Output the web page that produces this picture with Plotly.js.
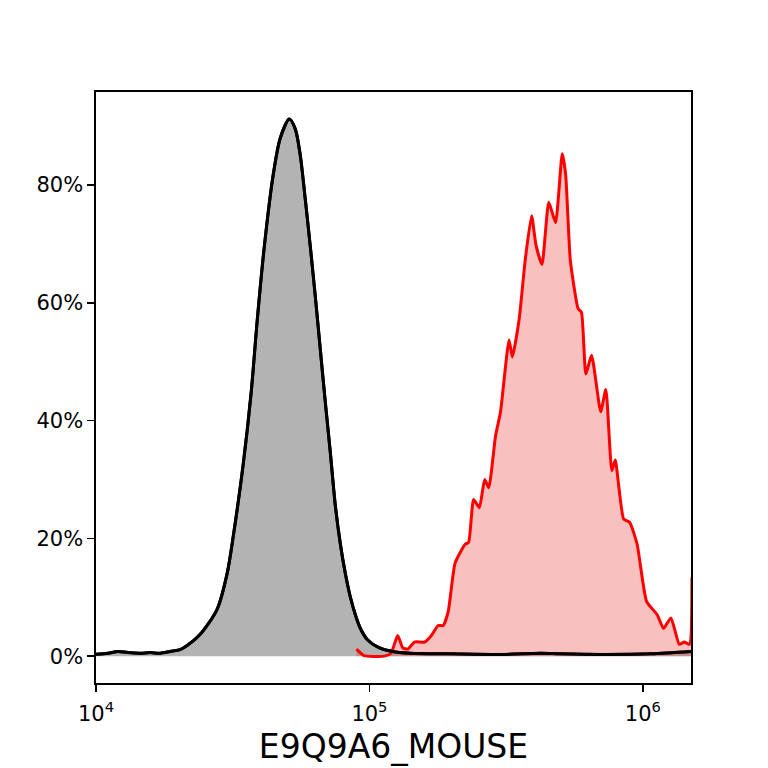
<!DOCTYPE html>
<html>
<head>
<meta charset="utf-8">
<script src="https://cdn.plot.ly/plotly-3.0.1.min.js"></script>
<style>
  body { margin: 0; background: white; }
  #plot { width: 768px; height: 768px; }
</style>
</head>
<body>
<div id="plot"></div>
<script>
// control (isotype) histogram, % of max
var ctrlX = [1.0e4, 1.1065e4, 1.2036e4, 1.3095e4, 1.4495e4, 1.5767e4, 1.7154e4, 1.8666e4, 2.0306e4,
             2.1544e4, 2.404e4, 2.7748e4, 3.0191e4, 3.1754e4, 3.4551e4, 3.696e4, 3.8871e4, 4.1248e4,
             4.4488e4, 4.7206e4, 5.0933e4, 5.357e4, 5.588e4, 5.829e4, 6.08e4, 6.342e4, 6.615e4,
             6.901e4, 7.197e4, 7.507e4, 7.831e4, 8.168e4, 8.52e4, 8.888e4, 9.27e4, 9.833e4,
             1.079e5, 1.2141e5, 1.4131e5, 1.98e5, 3.02e5, 4.23e5, 5.01e5, 7.02e5, 1.07e6, 1.512e6]
var ctrlY = [0.3, 0.5, 0.8, 0.6, 0.5, 0.6, 0.5, 0.8, 1.1,
             1.8, 3.7, 8.0, 14.1, 20.3, 32.6, 44.9, 57.0, 69.5,
             81.8, 88.0, 91.2, 89.5, 85.0, 77.5, 69.5, 61.0, 52.0,
             43.0, 34.5, 25.5, 19.0, 14.0, 10.0, 7.0, 4.7, 2.8,
             1.5, 0.8, 0.5, 0.4, 0.3, 0.5, 0.4, 0.3, 0.4, 0.8]

// stained sample histogram
var sampleX = [8.965e4, 9.555e4, 1.1328e5, 1.1993e5, 1.2688e5, 1.3243e5, 1.3813e5, 1.4614e5, 1.5929e5,
               1.6853e5, 1.7838e5, 1.8621e5, 1.9424e5, 2.0569e5, 2.2397e5, 2.3047e5, 2.4044e5, 2.5225e5,
               2.6401e5, 2.7309e5, 2.8922e5, 3.0167e5, 3.2405e5, 3.332e5, 3.5285e5, 3.7118e5, 3.9174e5,
               4.066e5, 4.2764e5, 4.529e5, 4.7931e5, 5.0715e5, 5.2195e5, 5.4302e5, 5.7995e5, 5.9634e5,
               6.1885e5, 6.4932e5, 7.0131e5, 7.3224e5, 7.6997e5, 7.9245e5, 8.505e5, 8.9536e5, 9.5299e5,
               1.0318e6, 1.1299e6, 1.1896e6, 1.2665e6, 1.3594e6, 1.418e6, 1.4804e6, 1.5121e6]
var sampleY = [1.2, 0.1, 0.0, 0.5, 3.5, 1.4, 1.2, 2.4, 2.4,
               3.5, 5.2, 5.2, 7.6, 15.8, 19.0, 19.3, 26.6, 25.2,
               30.0, 28.6, 37.4, 41.5, 53.7, 50.8, 57.2, 67.2, 74.8,
               69.8, 66.5, 77.1, 73.6, 85.3, 81.8, 67.2, 59.0, 58.4,
               47.9, 51.1, 41.5, 45.3, 31.5, 33.3, 23.3, 22.7, 19.0,
               9.3, 7.0, 4.7, 6.5, 2.0, 2.4, 2.0, 13.4]

var yTicks = [0, 20, 40, 60, 80]
var yTickText = ["0%", "20%", "40%", "60%", "80%"]
var xTicks = [1e4, 1e5, 1e6]
var xTickText = ["10<sup>4</sup>", "10<sup>5</sup>", "10<sup>6</sup>"]
var xLabel = "E9Q9A6_MOUSE"

var font = "DejaVu Sans, sans-serif"

var data = [
    {
        x: ctrlX, y: ctrlY,
        type: "scatter", mode: "lines",
        fill: "tozeroy", fillcolor: "rgb(179,179,179)",
        line: {color: "black", width: 3, shape: "spline", smoothing: 0.8},
        hoverinfo: "skip"
    },
    {
        x: sampleX, y: sampleY,
        type: "scatter", mode: "lines",
        fill: "tozeroy", fillcolor: "rgba(235,60,60,0.32)",
        line: {color: "#ff0000", width: 3, shape: "spline", smoothing: 0.5},
        hoverinfo: "skip"
    },
    {
        // black outline again so it sits over the red fill
        x: ctrlX, y: ctrlY,
        type: "scatter", mode: "lines",
        line: {color: "black", width: 3, shape: "spline", smoothing: 0.8},
        hoverinfo: "skip"
    }
]

var axisCommon = {
    showline: true, mirror: true, linecolor: "black", linewidth: 1.6,
    ticks: "outside", ticklen: 7, tickwidth: 1.6, tickcolor: "black",
    showgrid: false, zeroline: false,
    tickfont: {family: font, size: 21, color: "black"}
}

var layout = {
    width: 768, height: 768,
    margin: {l: 96, r: 77, t: 92, b: 85},
    paper_bgcolor: "white", plot_bgcolor: "white",
    showlegend: false,
    xaxis: Object.assign({}, axisCommon, {
        type: "log",
        range: [4, Math.log10(1.5e6)],
        tickvals: xTicks, ticktext: xTickText,
        ticklabelstandoff: 4,
        title: {text: xLabel, font: {family: font, size: 33, color: "black"}, standoff: 10}
    }),
    yaxis: Object.assign({}, axisCommon, {
        range: [-4.56, 95.8],
        tickvals: yTicks, ticktext: yTickText
    })
}

Plotly.newPlot("plot", data, layout, {staticPlot: true})
</script>
</body>
</html>
